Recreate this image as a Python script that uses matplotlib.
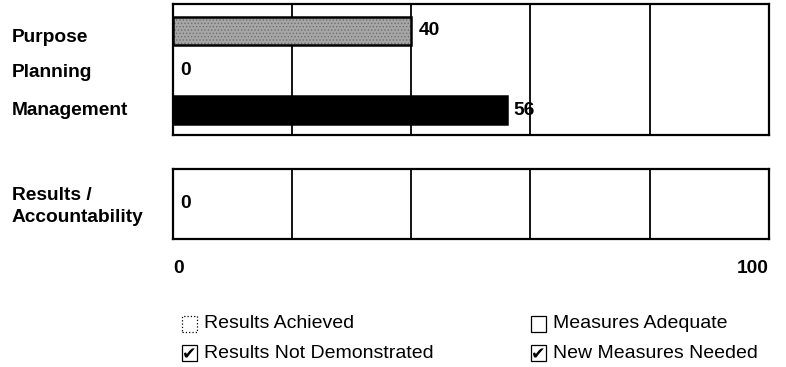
import matplotlib.pyplot as plt
import matplotlib.transforms as mtransforms
from matplotlib.patches import Rectangle

plt.rcParams['font.family'] = ['Liberation Sans', 'DejaVu Sans']
plt.rcParams['hatch.linewidth'] = 0.6

categories = ['Purpose', 'Planning', 'Management']
scores = [40, 0, 56]
bar_colors = ['#a6a6a6', 'white', 'black']
bar_hatches = ['.....', None, None]
results_label = 'Results /\nAccountability'
results_score = [0]
legend_items = ['Results Achieved', 'Results Not Demonstrated',
                'Measures Adequate', 'New Measures Needed']
legend_checked = [False, True, False, True]

W, H = 786, 367
fig = plt.figure(figsize=(W / 100, H / 100), dpi=100)
ax1 = fig.add_axes([0.220, 0.632, 0.758, 0.357])
ax2 = fig.add_axes([0.220, 0.349, 0.758, 0.191])
fs = 13.8

# top panel
ypos = list(range(len(categories)))
for y, v, c, h in zip(ypos, scores, bar_colors, bar_hatches):
    if v == 0:
        continue
    ax1.barh(y, v, height=0.72, color=c, edgecolor='#6e6e6e', hatch=h,
             linewidth=0, zorder=3)
    ax1.barh(y, v, height=0.72, fill=False, edgecolor='black',
             linewidth=1.8, zorder=3)
for y, v in zip(ypos, scores):
    ax1.text(v + 1.2, y, str(v), va='center', ha='left', fontsize=fs,
             fontweight='bold', zorder=4)
ax1.set_ylim(2.63, -0.68)

# row labels on the left, slightly offset like the original print
nudge = [5, 0, -2]
for y, lab, dy in zip(ypos, categories, nudge):
    tr = mtransforms.blended_transform_factory(fig.transFigure, ax1.transData)
    tr = tr + mtransforms.ScaledTranslation(0, -dy / 100, fig.dpi_scale_trans)
    fig.text(12 / W, y, lab, transform=tr, ha='left', va='center_baseline',
             fontsize=fs, fontweight='bold')

# bottom panel
ax2.set_ylim(0.5, -0.5)
ax2.text(results_score[0] + 1.2, 0, str(results_score[0]), va='center',
         ha='left', fontsize=fs, fontweight='bold', zorder=4)
tr2 = mtransforms.blended_transform_factory(fig.transFigure, ax2.transData)
tr2 = tr2 + mtransforms.ScaledTranslation(0, -0.03, fig.dpi_scale_trans)
fig.text(12 / W, 0, results_label, transform=tr2, ha='left', va='center',
         fontsize=fs, fontweight='bold', linespacing=1.4)

for ax in (ax1, ax2):
    ax.set_xlim(0, 100)
    ax.set_xticks([20, 40, 60, 80])
    ax.set_yticks([])
    ax.grid(axis='x', color='black', linewidth=1.3, zorder=1)
    ax.tick_params(axis='x', length=0, labelbottom=False)
    for s in ax.spines.values():
        s.set_linewidth(1.6)

# 0 / 100 scale labels
ax2.text(0, -0.42, '0', transform=ax2.get_xaxis_transform(), ha='left',
         va='center', fontsize=fs, fontweight='bold')
ax2.text(100, -0.42, '100', transform=ax2.get_xaxis_transform(), ha='right',
         va='center', fontsize=fs, fontweight='bold')

# legend with check boxes
box_x = [182, 182, 531, 531]
row_y = [324, 353, 324, 353]
for i, (lab, chk) in enumerate(zip(legend_items, legend_checked)):
    bx, by = box_x[i], row_y[i]
    ls = ':' if i == 0 else '-'
    fig.patches.append(Rectangle((bx / W, 1 - (by + 8) / H), 15 / W, 16 / H,
                                 transform=fig.transFigure, fill=False,
                                 edgecolor='black', linewidth=0.9,
                                 linestyle=ls))
    if chk:
        fig.text((bx + 7.5) / W, 1 - (by + 1) / H, '\u2714', ha='center',
                 va='center', fontsize=12.5, family='DejaVu Sans')
    fig.text((bx + 22) / W, 1 - by / H, lab, ha='left', va='center',
             fontsize=14)

fig.savefig('out.png', dpi=100)
